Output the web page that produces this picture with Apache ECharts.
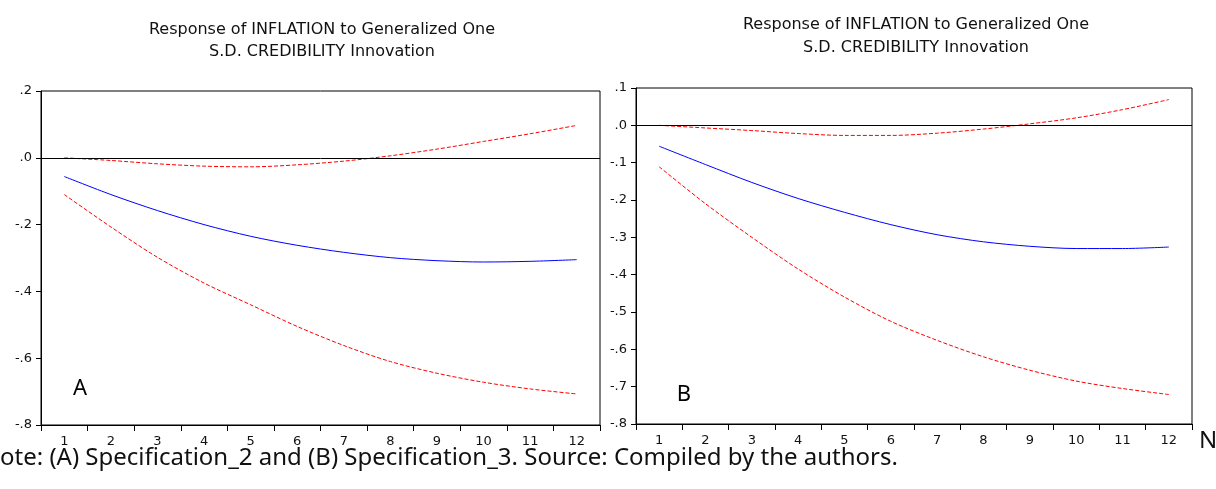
<!DOCTYPE html>
<html>
<head>
<meta charset="utf-8">
<script src="https://cdn.jsdelivr.net/npm/echarts@6/dist/echarts.min.js"></script>
<style>
html,body{margin:0;padding:0;background:#fff;}
#chart{width:1216px;height:489px;}
</style>
</head>
<body>
<div id="chart"></div>
<script>
// ---- data ----
var periods = ['1','2','3','4','5','6','7','8','9','10','11','12'];

// Panel A (Specification_2)
var aResponse = [-0.056,-0.110,-0.158,-0.200,-0.235,-0.262,-0.283,-0.299,-0.308,-0.312,-0.310,-0.305];
var aUpper    = [0.000,-0.008,-0.018,-0.025,-0.027,-0.021,-0.010,0.006,0.026,0.049,0.072,0.097];
var aLower    = [-0.110,-0.207,-0.298,-0.375,-0.440,-0.505,-0.562,-0.610,-0.645,-0.672,-0.692,-0.707];

// Panel B (Specification_3)
var bResponse = [-0.056,-0.105,-0.153,-0.196,-0.233,-0.266,-0.293,-0.312,-0.324,-0.330,-0.330,-0.326];
var bUpper    = [0.000,-0.007,-0.014,-0.022,-0.027,-0.027,-0.021,-0.010,0.004,0.020,0.042,0.069];
var bLower    = [-0.111,-0.210,-0.300,-0.385,-0.460,-0.525,-0.576,-0.620,-0.656,-0.685,-0.705,-0.721];

var titleLine1 = 'Response of INFLATION to Generalized One';
var titleLine2 = 'S.D. CREDIBILITY Innovation';
var panelLabels = ['A','B'];
var noteText = 'ote: (A) Specification_2 and (B) Specification_3. Source: Compiled by the authors.';
var cornerText = 'N';

// ---- chart ----
var FONT = 'DejaVu Sans';
function yFmt(v){
  var r = Math.round(v*10)/10;
  if (Math.abs(r) < 1e-9) return '.0';
  var s = r.toFixed(1);
  return s.replace('0.', '.');
}
function xAxisCfg(gi){
  return {
    type:'category', gridIndex:gi, data:periods, boundaryGap:true,
    axisLine:{show:true,onZero:false,lineStyle:{color:'#000',width:1}},
    axisTick:{show:true,length:6,alignWithLabel:false,lineStyle:{color:'#000'}},
    axisLabel:{color:'#111',fontFamily:FONT,fontSize:13,margin:10},
    splitLine:{show:false}
  };
}
function yAxisCfg(gi,interval,max){
  return {
    type:'value', gridIndex:gi, min:-0.8, max:max, interval:interval,
    axisLine:{show:true,onZero:false,lineStyle:{color:'#000',width:1}},
    axisTick:{show:true,length:5,lineStyle:{color:'#000'}},
    axisLabel:{color:'#111',fontFamily:FONT,fontSize:13,margin:9,formatter:yFmt},
    splitLine:{show:false}
  };
}
function lineSeries(data,gi,color,dashed,withZero){
  var s = {
    type:'line', xAxisIndex:gi, yAxisIndex:gi, data:data,
    showSymbol:false, symbol:'none', smooth:0.3, silent:true, animation:false,
    lineStyle:{color:color,width:1,type:dashed?[4,2]:'solid'}
  };
  if (withZero){
    s.markLine = {silent:true, symbol:'none', animation:false, label:{show:false},
      lineStyle:{color:'#000',width:1,type:'solid'}, data:[{yAxis:0}]};
  }
  return s;
}

var chart = echarts.init(document.getElementById('chart'), null, {renderer:'canvas'});
var tFont = '16px "'+FONT+'"';
chart.setOption({
  animation:false,
  backgroundColor:'#fff',
  grid:[
    {left:41, top:91, width:559, height:334, show:true, borderColor:'#000', borderWidth:1, backgroundColor:'transparent'},
    {left:636, top:88, width:556, height:336, show:true, borderColor:'#000', borderWidth:1, backgroundColor:'transparent'}
  ],
  xAxis:[xAxisCfg(0), xAxisCfg(1)],
  yAxis:[yAxisCfg(0,0.2,0.2), yAxisCfg(1,0.1,0.1)],
  series:[
    lineSeries(aUpper,0,'#ff0000',true,true),
    lineSeries(aLower,0,'#ff0000',true,false),
    lineSeries(aResponse,0,'#0000ff',false,false),
    lineSeries(bUpper,1,'#ff0000',true,true),
    lineSeries(bLower,1,'#ff0000',true,false),
    lineSeries(bResponse,1,'#0000ff',false,false)
  ],
  graphic:[
    {type:'text', style:{text:titleLine1, x:322, y:30, align:'center', verticalAlign:'middle', font:tFont, fill:'#111'}},
    {type:'text', style:{text:titleLine2, x:322, y:52, align:'center', verticalAlign:'middle', font:tFont, fill:'#111'}},
    {type:'text', style:{text:titleLine1, x:916, y:25, align:'center', verticalAlign:'middle', font:tFont, fill:'#111'}},
    {type:'text', style:{text:titleLine2, x:916, y:48, align:'center', verticalAlign:'middle', font:tFont, fill:'#111'}},
    {type:'text', style:{text:panelLabels[0], x:80, y:389, align:'center', verticalAlign:'middle', font:'22px "Noto Sans"', fill:'#000'}},
    {type:'text', style:{text:panelLabels[1], x:684, y:395, align:'center', verticalAlign:'middle', font:'22px "Noto Sans"', fill:'#000'}},
    {type:'text', style:{text:noteText, x:0, y:458, align:'left', verticalAlign:'middle', font:'24px "Noto Sans"', fill:'#111'}},
    {type:'text', style:{text:cornerText, x:1199, y:441, align:'left', verticalAlign:'middle', font:'24px "Noto Sans"', fill:'#111'}}
  ]
});
</script>
</body>
</html>
